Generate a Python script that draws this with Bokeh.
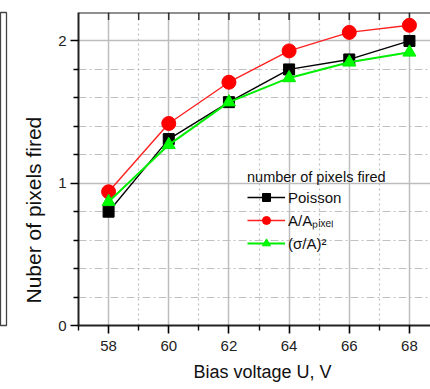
from bokeh.plotting import figure
from bokeh.models import FixedTicker, Legend, LegendItem, Range1d, Span, Title
from bokeh.layouts import row
from bokeh.embed import file_html
from bokeh.resources import INLINE

# ---- data ----
bias_v = [58, 60, 62, 64, 66, 68]
poisson = [0.80, 1.31, 1.57, 1.80, 1.87, 2.00]
a_over_apixel = [0.94, 1.42, 1.71, 1.93, 2.06, 2.11]
sigma_a_sq = [0.87, 1.27, 1.57, 1.74, 1.85, 1.92]

x_major = [58, 60, 62, 64, 66, 68]
x_minor = [57, 59, 61, 63, 65, 67]
y_major = [0, 1, 2]
y_minor = [0.2, 0.4, 0.6, 0.8, 1.2, 1.4, 1.6, 1.8]

x_label = "Bias voltage U, V"
y_label = "Nuber of pixels fired"
legend_title = "number of pixels fired"
series_names = ["Poisson", "A/A\u209a\u1d62\u2093\u2091\u2097", "(\u03c3/A)\u00b2"]

X_START, X_END = 57, 68.7
Y_START, Y_END = 0, 2.2
FONT = "Liberation Sans"

# neighbouring panel edge (cropped)
side = figure(width=8, height=389, toolbar_location=None, output_backend="svg",
              x_axis_location=None, y_axis_location=None,
              min_border_left=0, min_border_right=2, min_border_top=12, min_border_bottom=64)
side.xgrid.visible = False
side.ygrid.visible = False
side.outline_line_color = "#444444"
side.outline_line_width = 1.3

p = figure(width=422, height=389, toolbar_location=None, output_backend="svg",
           x_range=Range1d(X_START, X_END), y_range=Range1d(Y_START, Y_END),
           min_border_left=70, min_border_right=0, min_border_top=11, min_border_bottom=64)
p.outline_line_color = None
p.background_fill_color = "white"

xt = FixedTicker(ticks=x_major, minor_ticks=x_minor)
yt = FixedTicker(ticks=y_major, minor_ticks=y_minor)
p.xaxis.ticker = xt
p.yaxis.ticker = yt

for ax in (p.xaxis[0], p.yaxis[0]):
    ax.axis_line_width = 2
    ax.axis_line_color = "#222222"
    ax.major_tick_line_width = 1.6
    ax.minor_tick_line_width = 1.4
    ax.major_tick_out = 8
    ax.major_tick_in = 0
    ax.minor_tick_out = 5
    ax.minor_tick_in = 0
    ax.major_label_text_font = FONT
    ax.major_label_text_font_size = "15px"
    ax.major_label_text_color = "#222222"

p.xaxis.major_label_standoff = 7
p.yaxis.major_label_standoff = 4

# axis titles, placed off-centre as in the original
p.add_layout(Title(text=y_label, align="left", offset=22, standoff=22,
                   text_font=FONT, text_font_size="21px", text_font_style="normal",
                   text_color="#111111"), "left")
p.add_layout(Title(text=x_label, align="left", offset=115, standoff=13,
                   text_font=FONT, text_font_size="18px", text_font_style="normal",
                   text_color="#111111"), "below")

# top frame line with inward ticks
p.add_layout(Span(location=Y_END, dimension="width", line_color="#222222", line_width=1.8))
top_ticks = [t for t in x_major + x_minor if X_START < t < X_END]
tick_len = 7.5 * (Y_END - Y_START) / 314
p.segment(x0=top_ticks, y0=[Y_END] * len(top_ticks), x1=top_ticks,
          y1=[Y_END - tick_len] * len(top_ticks), line_color="#333333", line_width=1.5)

p.xgrid.ticker = xt
p.ygrid.ticker = yt
p.xgrid.grid_line_color = "#bdbdbd"
p.xgrid.grid_line_width = 1.5
p.ygrid.grid_line_color = "#bdbdbd"
p.ygrid.grid_line_width = 1.5
p.xgrid.minor_grid_line_color = "#c0c0c0"
p.xgrid.minor_grid_line_dash = "2 3"
p.xgrid.minor_grid_line_width = 1.2
p.ygrid.minor_grid_line_color = "#c0c0c0"
p.ygrid.minor_grid_line_dash = "8 3 2 3"
p.ygrid.minor_grid_line_width = 1.2

l1 = p.line(bias_v, poisson, line_color="black", line_width=1.4)
m1 = p.scatter(bias_v, poisson, marker="square", size=11, fill_color="black", line_color="black")
l2 = p.line(bias_v, a_over_apixel, line_color="#ff2020", line_width=1.4)
m2 = p.scatter(bias_v, a_over_apixel, marker="circle", size=14, fill_color="#ff0000", line_color="#ff0000")
l3 = p.line(bias_v, sigma_a_sq, line_color="#00ee00", line_width=2)
m3 = p.scatter(bias_v, sigma_a_sq, marker="triangle", size=13, fill_color="#00ff00", line_color="#00ee00")

legend = Legend(items=[LegendItem(label=series_names[0], renderers=[l1, m1]),
                       LegendItem(label=series_names[1], renderers=[l2, m2]),
                       LegendItem(label=series_names[2], renderers=[l3, m3])],
                location=(169, 72), title=legend_title)
legend.title_text_font = FONT
legend.title_text_font_size = "14.5px"
legend.title_text_font_style = "normal"
legend.title_text_color = "#111111"
legend.title_standoff = 2
legend.label_text_font = FONT
legend.label_text_font_size = "15px"
legend.label_text_color = "#111111"
legend.glyph_width = 38
legend.glyph_height = 20
legend.label_standoff = 3
legend.spacing = 3
legend.padding = 0
legend.margin = 0
legend.border_line_color = None
legend.background_fill_alpha = 0
p.add_layout(legend)

layout = row(side, p)
open("out.html", "w").write(file_html(layout, INLINE))
